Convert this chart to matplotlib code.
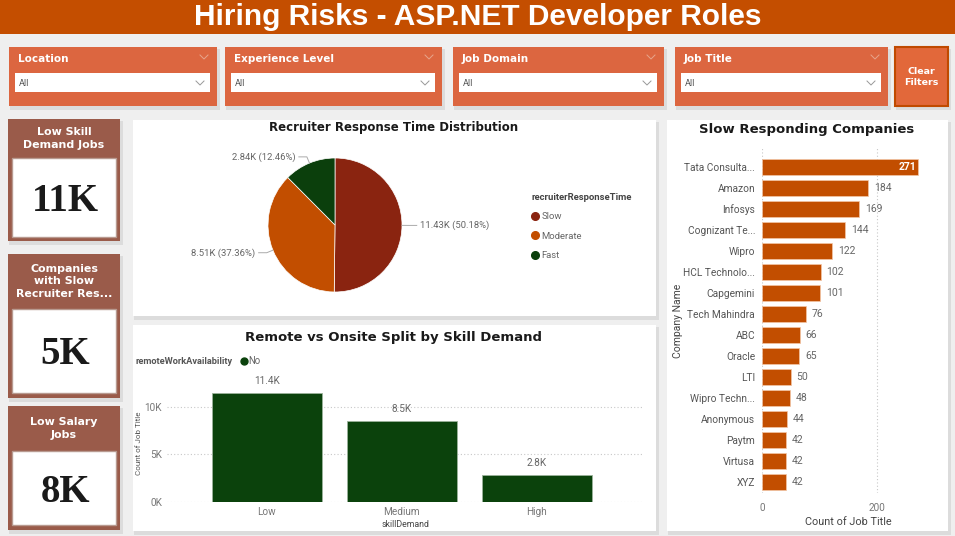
import matplotlib.pyplot as plt
import numpy as np
from matplotlib.lines import Line2D
from matplotlib.patches import Rectangle

W, H = 955, 536

# chart data
response_levels = ["Slow", "Moderate", "Fast"]
response_counts = [11432, 8512, 2838]
response_colors = ["#8A2410", "#C24E00", "#0B3F0C"]

skill_levels = ["Low", "Medium", "High"]
skill_counts = [11420, 8510, 2840]

companies = ["Tata Consulta...", "Amazon", "Infosys", "Cognizant Te...", "Wipro",
             "HCL Technolo...", "Capgemini", "Tech Mahindra", "ABC", "Oracle", "LTI",
             "Wipro Techn...", "Anonymous", "Paytm", "Virtusa", "XYZ"]
company_counts = [271, 184, 169, 144, 122, 102, 101, 76, 66, 65, 50, 48, 44, 42, 42, 42]

kpi_titles = ["Low Skill\nDemand Jobs", "Companies\nwith Slow\nRecruiter Res...", "Low Salary\nJobs"]
kpi_values = ["11K", "5K", "8K"]

slicer_names = ["Location", "Experience Level", "Job Domain", "Job Title"]

BANNER = "#C44E00"
SLICER = "#DC6640"
CARD = "#9A5B4A"
GRAY = "#666666"
BOLD = "DejaVu Sans"

plt.rcParams["font.family"] = ["Roboto", "DejaVu Sans"]


def fig_rect(x0, y0, x1, y1):
    return [x0 / W, 1 - y1 / H, (x1 - x0) / W, (y1 - y0) / H]


def panel(ax, x0, y0, x1, y1, fc="white", ec="none", lw=0, shadow=True):
    if shadow:
        ax.add_patch(Rectangle((x0 + 1, y0 + 2), x1 - x0 + 2, y1 - y0 + 2,
                               fc="#000000", alpha=0.08, ec="none"))
    ax.add_patch(Rectangle((x0, y0), x1 - x0, y1 - y0, fc=fc, ec=ec, lw=lw))


fig = plt.figure(figsize=(W / 100, H / 100), dpi=100, facecolor="#efefef")
bg = fig.add_axes([0, 0, 1, 1])
bg.set_xlim(0, W)
bg.set_ylim(H, 0)
bg.axis("off")

# banner
bg.add_patch(Rectangle((0, 0), W, 34, fc=BANNER, ec="none"))
bg.text(478, 17, "Hiring Risks - ASP.NET Developer Roles", ha="center", va="center",
        fontsize=21.5, fontweight="bold", color="white", family="Liberation Sans")

# slicers
slicer_x = [(9, 217), (225, 442), (453, 664), (675, 888)]
for name, (x0, x1) in zip(slicer_names, slicer_x):
    panel(bg, x0, 47, x1, 106, fc=SLICER)
    bg.text(x0 + 9, 59, name, ha="left", va="center", fontsize=7.5,
            fontweight="bold", color="white", family=BOLD)
    bg.add_patch(Rectangle((x0 + 6, 73), x1 - x0 - 13, 19, fc="white", ec="none"))
    bg.text(x0 + 10, 83, "All", ha="left", va="center", fontsize=6.6, color="#555555")
    for cx, cy, col in [(x1 - 13, 57, "#e8a58c"), (x1 - 17, 83, "#999999")]:
        bg.plot([cx - 4, cx, cx + 4], [cy - 2, cy + 2, cy - 2], color=col, lw=0.7)

panel(bg, 895, 47, 948, 106, fc="#E2683A", ec="#C04A00", lw=1.5)
bg.text(921.5, 77, "Clear\nFilters", ha="center", va="center", fontsize=6.8,
        fontweight="bold", color="white", linespacing=1.3, family=BOLD)

# KPI cards
cards = [(119, 241, 158, 237), (254, 398, 309, 393), (406, 530, 451, 525)]
for title, value, (y0, y1, iy0, iy1) in zip(kpi_titles, kpi_values, cards):
    panel(bg, 8, y0, 120, y1, fc=CARD)
    bg.add_patch(Rectangle((12, iy0), 104, iy1 - iy0, fc="white", ec="#b89a90", lw=1))
    bg.text(64, (y0 + iy0) / 2, title, ha="center", va="center", fontsize=7.9,
            fontweight="bold", color="white", linespacing=1.3, family=BOLD)
    bg.text(65, (iy0 + iy1) / 2 + 4, value, ha="center", va="center", fontsize=28,
            fontweight="bold", color="#1a1a1a", family="Liberation Serif")

# chart panels
panel(bg, 133, 120, 656, 316)
panel(bg, 133, 325, 656, 531)
panel(bg, 667, 120, 948, 531)

bg.text(394, 128, "Recruiter Response Time Distribution", ha="center", va="center",
        fontsize=8.5, fontweight="bold", color="#1a1a1a", family=BOLD)
bg.text(393, 337, "Remote vs Onsite Split by Skill Demand", ha="center", va="center",
        fontsize=9.5, fontweight="bold", color="#1a1a1a", family=BOLD)
bg.text(807, 130, "Slow Responding Companies", ha="center", va="center",
        fontsize=9.5, fontweight="bold", color="#1a1a1a", family=BOLD)

# pie
ax_pie = fig.add_axes(fig_rect(268, 158, 402, 292))
wedges, _ = ax_pie.pie(response_counts, colors=response_colors, startangle=90,
                       counterclock=False,
                       wedgeprops=dict(edgecolor="white", linewidth=0.5))
ax_pie.set_xlim(-1, 1)
ax_pie.set_ylim(-1, 1)
total = sum(response_counts)
for w, v in zip(wedges, response_counts):
    ang = np.deg2rad((w.theta1 + w.theta2) / 2)
    x, y = np.cos(ang), np.sin(ang)
    side = 1 if x >= 0 else -1
    ax_pie.plot([x, x * 1.1, x * 1.1 + side * 0.12], [y, y * 1.1, y * 1.1],
                color="#aaaaaa", lw=0.7, clip_on=False)
    ax_pie.text(x * 1.1 + side * 0.17, y * 1.1,
                f"{v / 1000:.2f}K ({v / total * 100:.2f}%)",
                ha="left" if side > 0 else "right", va="center",
                fontsize=6.8, color=GRAY)

handles = [Line2D([], [], marker="o", ls="none", ms=5.5, color=c) for c in response_colors]
leg = fig.legend(handles, response_levels, title="recruiterResponseTime",
                 loc="upper left", bbox_to_anchor=(532 / W, 1 - 193 / H),
                 frameon=False, fontsize=6.8, alignment="left", handlelength=0.7,
                 handletextpad=0.3, labelspacing=1.1, borderpad=0, borderaxespad=0,
                 labelcolor=GRAY, title_fontproperties={"weight": "bold", "size": 6.8})
leg.get_title().set_color("#444444")

# column chart
ax_bar = fig.add_axes(fig_rect(167, 380, 643, 502))
xpos = np.arange(len(skill_levels))
bars = ax_bar.bar(xpos, skill_counts, width=0.81, color="#0B420C",
                  edgecolor="#9bb39b", linewidth=0.6)
ax_bar.set_xlim(-0.74, 2.786)
ax_bar.set_ylim(0, 12800)
ax_bar.set_yticks([0, 5000, 10000], ["0K", "5K", "10K"])
ax_bar.set_xticks(xpos, skill_levels)
ax_bar.grid(axis="y", ls=(0, (1, 2)), color="#c8c8c8", lw=0.8)
ax_bar.set_axisbelow(True)
for s in ax_bar.spines.values():
    s.set_visible(False)
ax_bar.tick_params(length=0, labelsize=7.2, labelcolor="#777777", pad=3.5)
ax_bar.set_ylabel("Count of Job Title", fontsize=5.8, color="#555555")
ax_bar.yaxis.set_label_coords(-0.052, 0.48)
ax_bar.set_xlabel("skillDemand", fontsize=6.3, color="#444444", labelpad=2)
ax_bar.bar_label(bars, labels=[f"{v / 1000:.1f}K" for v in skill_counts],
                 padding=5, fontsize=7.2, color=GRAY)
ax_bar.set_facecolor("none")

bg.text(135, 361, "remoteWorkAvailability", ha="left", va="center", fontsize=6.7,
        fontweight="bold", color="#555555")
ax_bar.legend([Line2D([], [], marker="o", ls="none", ms=5, color="#0B420C")], ["No"],
              loc="center left", bbox_to_anchor=(241 / W, 1 - 361 / H),
              bbox_transform=fig.transFigure, frameon=False, fontsize=6.9,
              handlelength=0.6, handletextpad=0.2, borderpad=0, borderaxespad=0,
              labelcolor=GRAY)

# horizontal bars
ax_h = fig.add_axes(fig_rect(762, 148, 935, 493))
ypos = np.arange(len(companies))
ax_h.barh(ypos, company_counts, height=0.8, color="#C24E00",
          edgecolor="#f3c7a6", linewidth=0.5)
ax_h.set_xlim(0, 300)
ax_h.set_ylim(15.52, -0.905)
ax_h.set_yticks(ypos, companies)
ax_h.set_xticks([0, 200], ["0", "200"])
ax_h.grid(axis="x", ls=(0, (1, 2)), color="#c8c8c8", lw=0.8)
ax_h.set_axisbelow(True)
for s in ax_h.spines.values():
    s.set_visible(False)
ax_h.tick_params(axis="y", length=0, labelsize=7.3, labelcolor="#555555", pad=5)
ax_h.tick_params(axis="x", length=0, labelsize=7.2, labelcolor="#777777", pad=7)
ax_h.set_xlabel("Count of Job Title", fontsize=7.8, color="#444444", labelpad=3)
ax_h.set_ylabel("Company Name", fontsize=7.5, color="#444444")
ax_h.yaxis.set_label_coords(-0.457, 0.5)
top = max(company_counts)
for yy, v in zip(ypos, company_counts):
    if v == top:
        ax_h.text(v - 4, yy, str(v), ha="right", va="center", fontsize=7.5,
                  color="white", fontweight="bold")
    else:
        ax_h.text(v + 10, yy, str(v), ha="left", va="center", fontsize=7.5, color=GRAY)
ax_h.set_facecolor("none")

fig.savefig("out.png", dpi=100, facecolor=fig.get_facecolor())
